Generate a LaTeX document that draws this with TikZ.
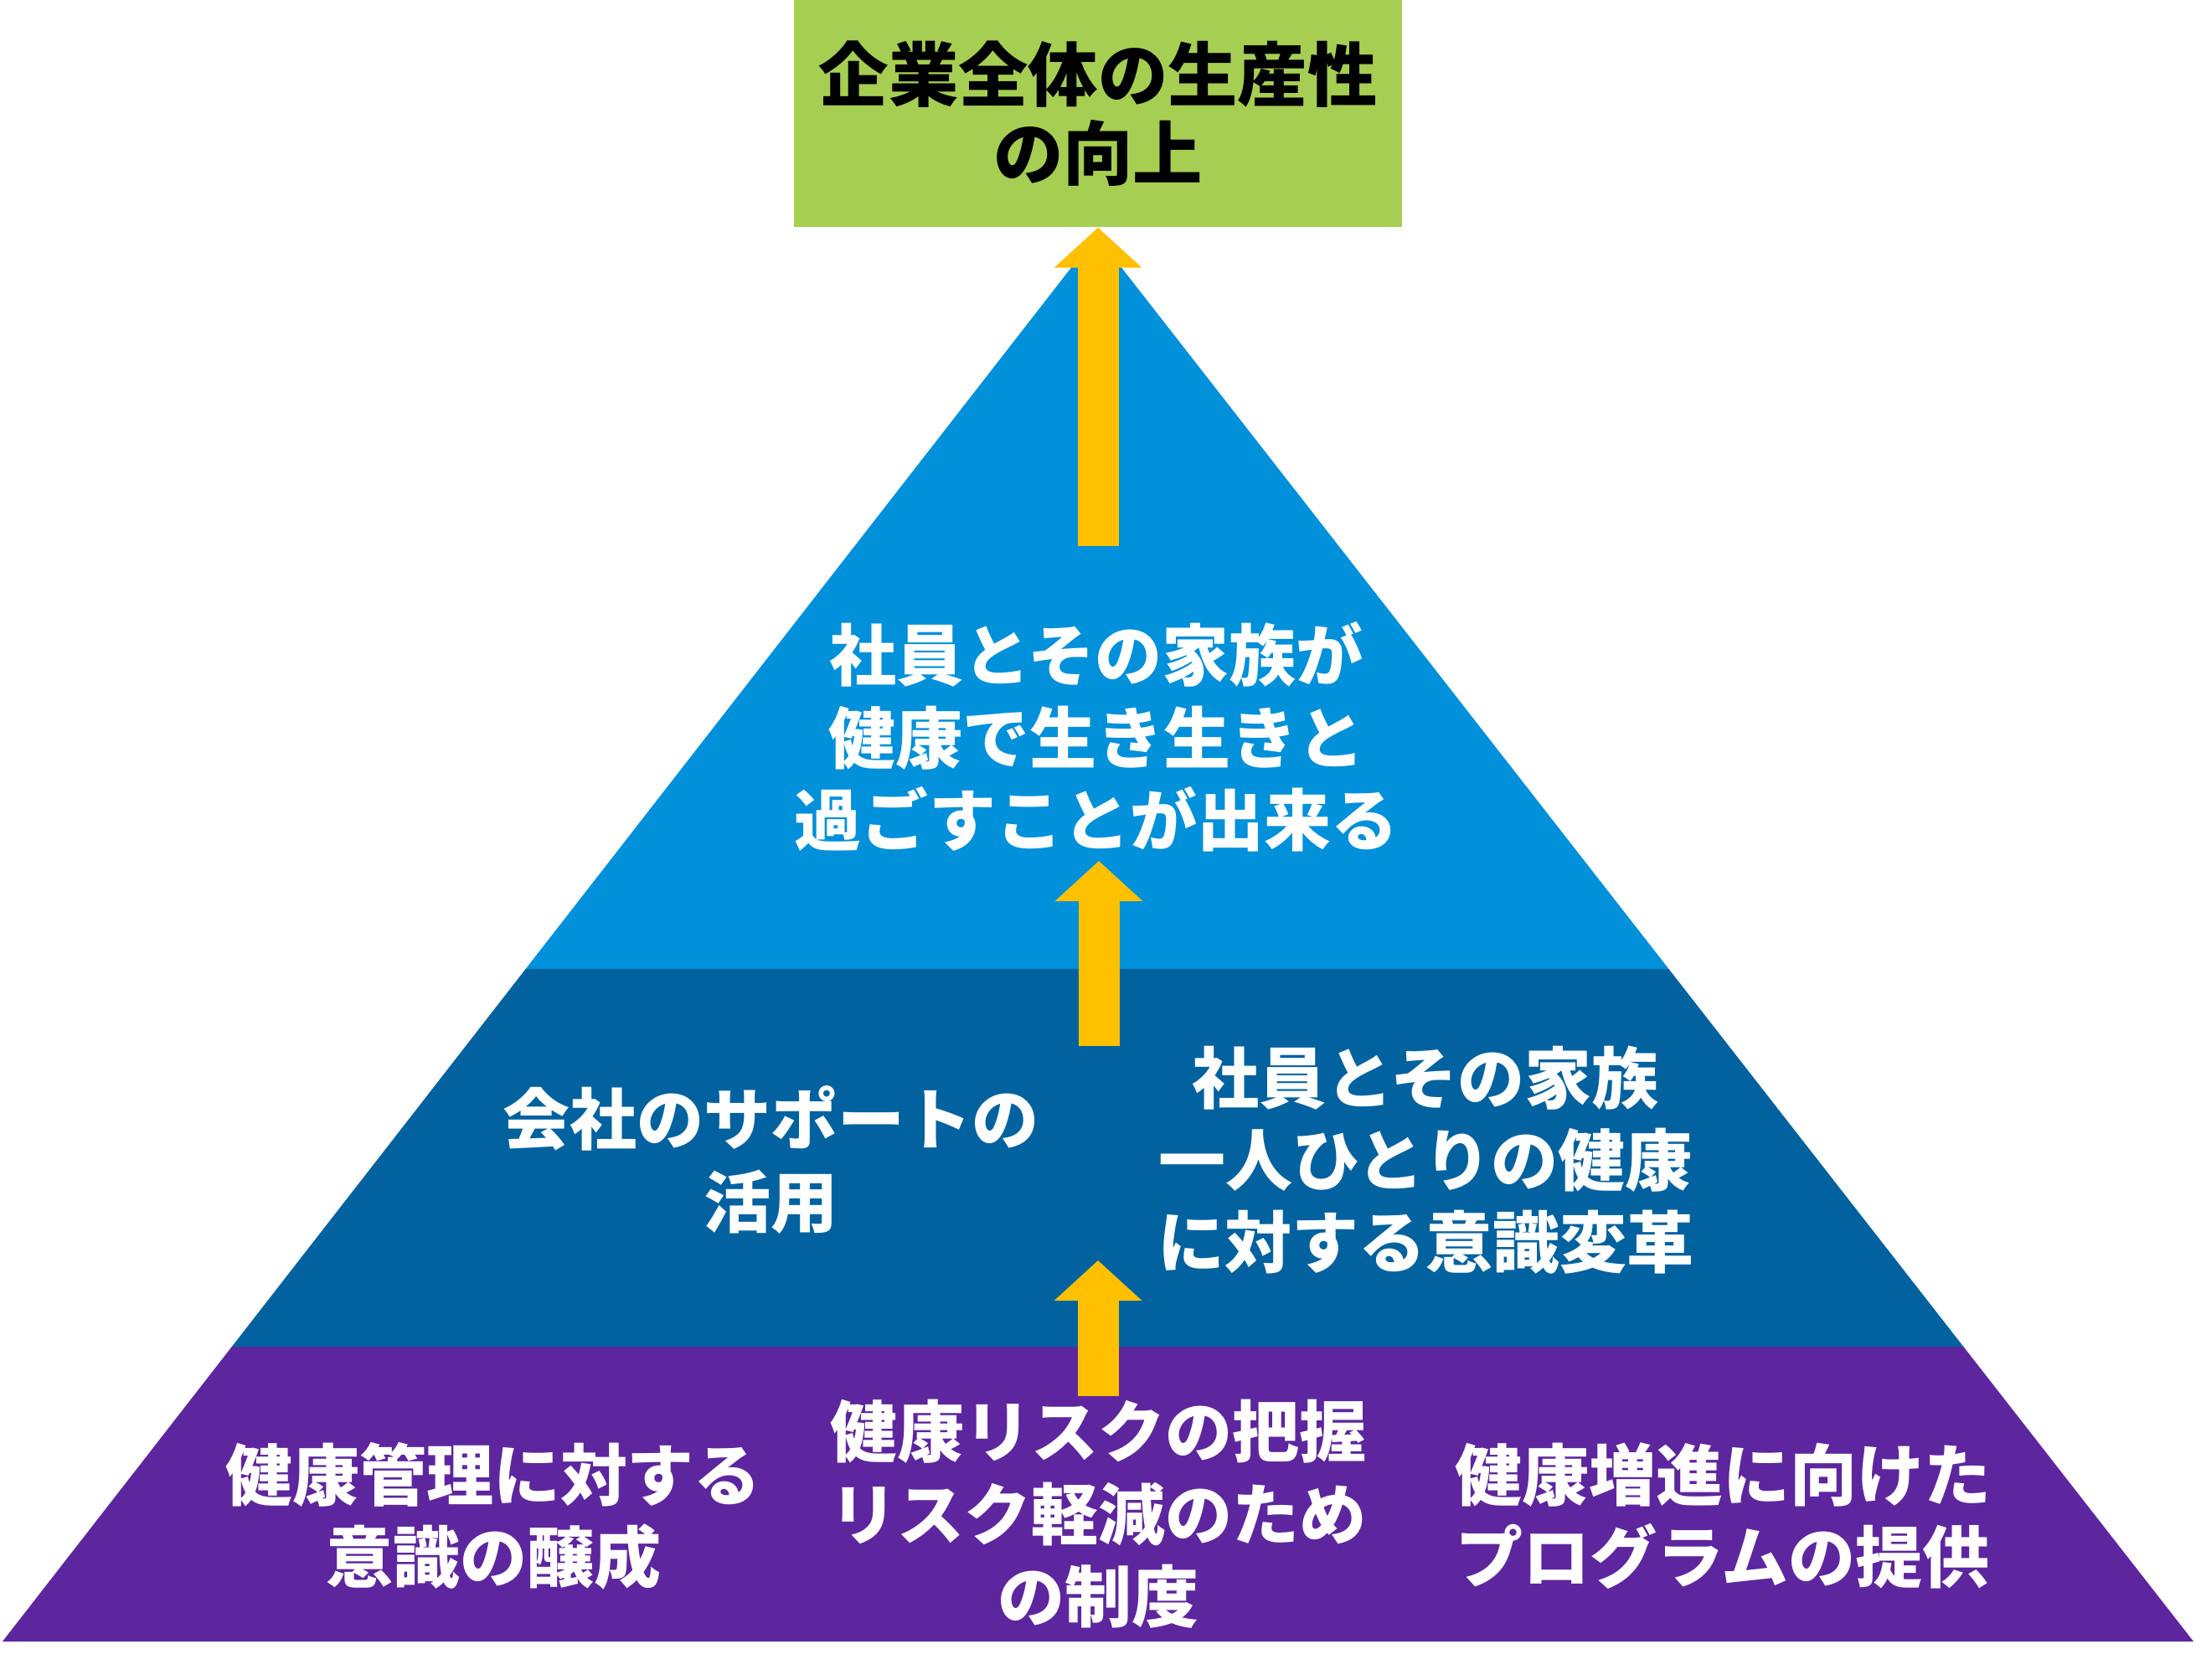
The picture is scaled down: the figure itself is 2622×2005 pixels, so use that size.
\documentclass[tikz,border=0pt]{standalone}
\usepackage{fontspec}
\setmainfont{Noto Sans CJK JP}
\usetikzlibrary{arrows.meta,calc}
\definecolor{goalgreen}{RGB}{166,206,82}
\definecolor{topblue}{RGB}{1,144,218}
\definecolor{midblue}{RGB}{2,98,160}
\definecolor{basepurple}{RGB}{93,38,158}
\definecolor{arrowyellow}{RGB}{255,192,0}
\tikzset{
  goalbox/.style={fill=goalgreen, minimum width=217.8pt, minimum height=81.3pt, inner sep=0pt,
    align=center, font=\bfseries\fontsize{25}{28.2}\selectfont, text=black},
  lbl/.style={align=center, inner sep=0pt, text=white, font=\bfseries\fontsize{24}{29.5}\selectfont},
  uparrow/.style={draw=arrowyellow, line width=14.7pt, line cap=butt,
    -{Triangle[length=14.4pt,width=30.6pt]}}
}
\begin{document}
\begin{tikzpicture}[x=0.3pt,y=-0.3pt]
\useasboundingbox (0,0) rectangle (2622,2005);
% pyramid
\coordinate (apex) at (1309,281);
\coordinate (bl) at (3,1960);
\coordinate (br) at (2619,1960);
\coordinate (l1) at ($(apex)!0.52174!(bl)$);
\coordinate (r1) at ($(apex)!0.52174!(br)$);
\coordinate (l2) at ($(apex)!0.79035!(bl)$);
\coordinate (r2) at ($(apex)!0.79035!(br)$);
\fill[topblue] (apex) -- (l1) -- (r1) -- cycle;
\fill[midblue] (l1) -- (r1) -- (r2) -- (l2) -- cycle;
\fill[basepurple] (l2) -- (r2) -- (br) -- (bl) -- cycle;
% goal box
\node[goalbox] (goal) at (1311,135.5) {企業全体の生産性\\の向上};
% labels
\node[lbl] (top) at (1309,880) {社員とその家族が\\健康で生き生きと\\過ごすことが出来る};
\node[lbl] (midl) at (920,1385) {会社のサポートの\\活用};
\node[lbl] (midr) at (1702,1385) {社員とその家族\\一人ひとりの健康\\に対する意識変革};
\node[lbl] (botl) at (589,1810) {健康管理に対する\\意識の醸成};
\node[lbl] (botc) at (1311,1808) {健康リスクの把握\\リスク軽減のため\\の制度};
\node[lbl] (botr) at (2057,1810) {健康増進に向けた\\プログラムの提供};
% arrows
\coordinate (a1s) at (1311,652);
\coordinate (a2s) at (1312,1249);
\coordinate (a2e) at (1312,1028);
\coordinate (a3s) at (1311,1667);
\coordinate (a3e) at (1311,1505);
\draw[uparrow] (a1s) -- (goal.south);
\draw[uparrow] (a2s) -- (a2e);
\draw[uparrow] (a3s) -- (a3e);
\end{tikzpicture}
\end{document}
